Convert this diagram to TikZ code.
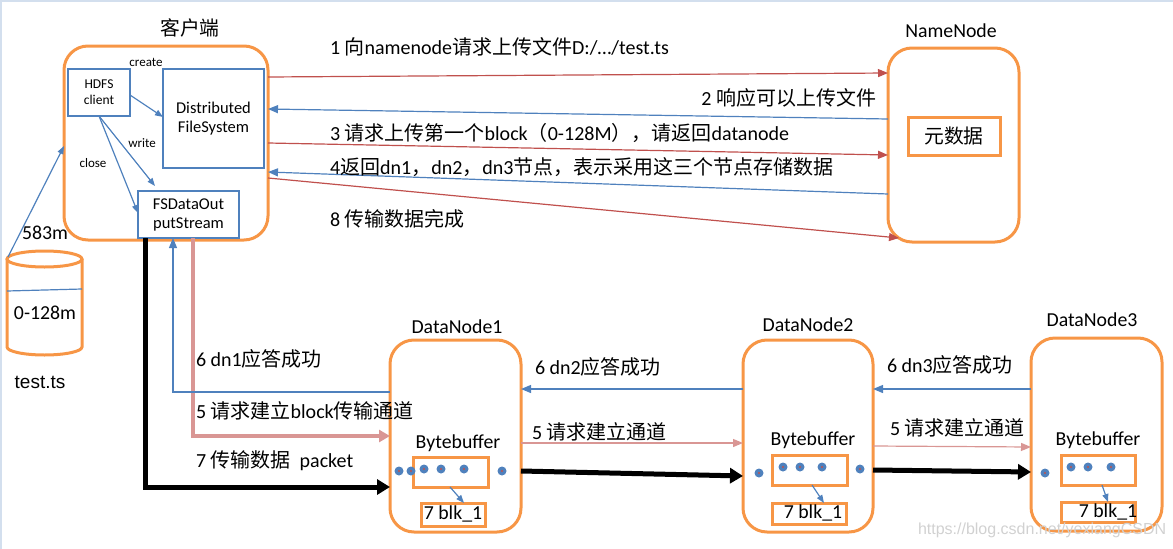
\documentclass[tikz,border=0pt]{standalone}
\usepackage{xcolor}
\usepackage{tikz}
\usetikzlibrary{arrows.meta,calc,positioning}
\usepackage{fontspec}
\setmainfont{Carlito}
\newfontfamily\cjk{Noto Sans CJK SC}
\newfontfamily\arialfont{Liberation Sans}
\definecolor{boxorange}{HTML}{F79646}
\definecolor{boxblue}{HTML}{4F81BD}
\definecolor{msgred}{HTML}{C0504D}
\definecolor{msgpink}{HTML}{D99694}

\begin{document}
\begin{tikzpicture}[x=1pt,y=-1pt,
	every node/.style={inner sep=0pt,outer sep=0pt},
	server/.style={draw=boxorange,line width=3pt,rounded corners=24pt},
	store/.style={draw=boxorange,line width=3pt},
	part/.style={draw=boxblue,line width=2.5pt,align=center,font=\fontsize{16.5}{19}\selectfont},
	title/.style={font=\fontsize{19.8}{22}\selectfont},
	msg/.style={anchor=west,font=\fontsize{20}{22}\selectfont},
	calllabel/.style={font=\fontsize{13}{15}\selectfont},
	call/.style={-{Triangle[length=8pt,width=6pt]},draw=boxblue,line width=1.2pt},
	req/.style={-{Triangle[length=10pt,width=8pt]},draw=msgred,line width=1.2pt},
	ack/.style={-{Triangle[length=10pt,width=8pt]},draw=boxblue,line width=1.2pt},
	setup/.style={-{Triangle[length=10pt,width=8pt]},draw=msgpink,line width=1.2pt},
	link/.style={-{Triangle[length=11pt,width=12pt]},draw=msgpink,line width=4pt},
	pipe/.style={-{Triangle[length=13pt,width=15pt]},draw=black,line width=5pt}]
	\useasboundingbox (0,0) rectangle (1173,549);
	\draw[boxblue!25,line width=2pt] (1,549) -- (1,1) -- (1173,1);

	% client side
	\node[server,minimum width=204pt,minimum height=194pt] (client) at (166,143) {};
	\node[title] (clienttitle) at (190,28) {\cjk 客户端};
	\node[part,minimum width=62pt,minimum height=47pt,font=\fontsize{13.5}{16}\selectfont] (hdfs) at (99,92.5) {HDFS\\client};
	\node[part,minimum width=101pt,minimum height=99pt] (dfs) at (213.5,118.5) {Distributed\\FileSystem};
	\node[part,minimum width=101pt,minimum height=47pt] (fsout) at (188.5,214.5) {FSDataOut\\putStream};
	\draw[call] ([yshift=-2.5pt]hdfs.east) -- ([yshift=1.5pt]dfs.west);
	\draw[call] (hdfs.south) -- ([xshift=-33.5pt,yshift=5pt]fsout.north);
	\draw[call] (hdfs.south) -- ([yshift=1.5pt]fsout.west);
	\node[calllabel] (createlabel) at (146,62) {create};
	\node[calllabel] (writelabel) at (142,143) {write};
	\node[calllabel] (closelabel) at (93,163) {close};

	% local file
	\draw[store] (44.5,259) ellipse [x radius=37.5pt,y radius=8pt];
	\draw[store] (7,259) -- (7,347) arc [start angle=180,end angle=360,x radius=37.5pt,y radius=8pt] -- (82,259);
	\draw[boxblue,line width=1.2pt] (7,291) -- (82,289);
	\coordinate (diskcorner) at (8,257);
	\draw[call] (diskcorner) -- ([yshift=-3pt]client.west);
	\node[title] (sizelabel) at (45,233) {583m};
	\node[title] (blocklabel) at (45,313) {0-128m};
	\node[font=\arialfont\fontsize{19}{22}\selectfont] (filelabel) at (40,382) {test.ts};

	% namenode
	\node[server,minimum width=131pt,minimum height=194pt] (namenode) at (953.5,145) {};
	\node[title] (nntitle) at (951,31) {NameNode};
	\node[store,minimum width=92pt,minimum height=38pt,title] (meta) at (954,136) {\cjk 元数据};

	\draw[req] ([yshift=66pt]client.east) -- ([yshift=72pt]namenode.west);
	\draw[ack] ([yshift=26pt]namenode.west) -- ([yshift=34pt]client.east);
	\draw[req] (client.east) -- ([yshift=-10pt]namenode.west);
	\draw[ack] ([yshift=-49pt]namenode.west) -- ([yshift=-29pt]client.east);
	\draw[req] ([yshift=-35pt]client.east) -- ([xshift=11pt,yshift=-93pt]namenode.west);
	\node[msg] (msg1) at (330,47) {1 {\cjk 向}namenode{\cjk 请求上传文件}D:/…/test.ts};
	\node[msg,anchor=east] (msg2) at (876,98) {2 {\cjk 响应可以上传文件}};
	\node[msg] (msg3) at (330,133) {3 {\cjk 请求上传第一个}block{\cjk （}0-128M{\cjk ），请返回}datanode};
	\node[msg] (msg4) at (330,167) {4{\cjk 返回}dn1{\cjk ，}dn2{\cjk ，}dn3{\cjk 节点，表示采用这三个节点存储数据}};
	\node[msg] (msg8) at (330,219) {8 {\cjk 传输数据完成}};

	% datanodes
	\node[server,minimum width=131pt,minimum height=192pt] (dn1) at (455.5,436) {};
	\node[server,minimum width=130pt,minimum height=192pt] (dn2) at (808,436) {};
	\node[server,minimum width=131pt,minimum height=193pt] (dn3) at (1096.5,434.5) {};
	\node[title] (dn1title) at (457,327) {DataNode1};
	\node[title] (dn2title) at (808,325) {DataNode2};
	\node[title] (dn3title) at (1092,320) {DataNode3};

	\node[title] (bb1) at (458,443) {Bytebuffer};
	\node[title] (bb2) at (813,440) {Bytebuffer};
	\node[title] (bb3) at (1098,440) {Bytebuffer};
	\node[store,minimum width=75pt,minimum height=30pt] (buf1) at (450.5,472) {};
	\node[store,minimum width=75pt,minimum height=30pt] (buf2) at (809.5,470) {};
	\node[store,minimum width=74pt,minimum height=30pt] (buf3) at (1098,470) {};
	\node[store,minimum width=64pt,minimum height=23pt] (blk1) at (453,514.5) {};
	\node[store,minimum width=74pt,minimum height=21pt] (blk2) at (809,513.5) {};
	\node[store,minimum width=74pt,minimum height=20pt] (blk3) at (1098,512) {};
	\node[title] (blklabel1) at (453,514) {7 blk\_1};
	\node[title] (blklabel2) at (813,513) {7 blk\_1};
	\node[title] (blklabel3) at (1108,512) {7 blk\_1};
	\draw[call] ([xshift=-0.5pt]buf1.south) -- ([xshift=11pt]blk1.north);
	\draw[call] ([xshift=2.5pt]buf2.south) -- ([xshift=15pt]blk2.north);
	\draw[call] ([xshift=4pt]buf3.south) -- ([xshift=10pt]blk3.north);
	\foreach \x/\y in {399/471,411/471,424/469,441/469,464/469,502/471,
	                   759/473,783/467,800/467,822/467,860/469,
	                   1045/473,1071/467,1088/467,1111/467}
	{
	  \fill[boxblue] (\x,\y) circle [radius=4.5pt];
	  \fill[msgred] (\x,\y) circle [radius=1.1pt];
	}

	% pipeline from client
	\draw[pipe] ([xshift=-43.5pt]fsout.south) |- ([yshift=-51pt]dn1.west);
	\draw[link] ([xshift=4.5pt]fsout.south) |- (dn1.west);
	\draw[ack] ([yshift=44pt]dn1.west) -| ([xshift=-15.5pt]fsout.south);
	\node[msg] (ack1) at (196,359) {6 dn1{\cjk 应答成功}};
	\node[msg] (setup1) at (196,411) {5 {\cjk 请求建立}block{\cjk 传输通道}};
	\node[msg] (packet) at (196,461) {7 {\cjk 传输数据}\ \ packet};

	% pipeline between datanodes
	\draw[ack] ([yshift=47pt]dn2.west) -- ([yshift=47pt]dn1.east);
	\draw[setup] ([yshift=-7pt]dn1.east) -- ([yshift=-7pt]dn2.west);
	\draw[pipe] ([yshift=-35pt]dn1.east) -- ([yshift=-40pt]dn2.west);
	\node[msg] (ack2) at (535,367) {6 dn2{\cjk 应答成功}};
	\node[msg] (setup2) at (532,432) {5 {\cjk 请求建立通道}};

	\draw[ack] ([yshift=45.5pt]dn3.west) -- ([yshift=47pt]dn2.east);
	\draw[setup] ([yshift=-10pt]dn2.east) -- ([yshift=-12.5pt]dn3.west);
	\draw[pipe] ([yshift=-34pt]dn2.east) -- ([yshift=-37.5pt]dn3.west);
	\node[msg] (ack3) at (887,365) {6 dn3{\cjk 应答成功}};
	\node[msg] (setup3) at (890,428) {5 {\cjk 请求建立通道}};

	\node[anchor=west,font=\arialfont\fontsize{16}{18}\selectfont,text=black!18] (mark) at (918,530) {https://blog.csdn.net/yexiangCSDN};
\end{tikzpicture}
\end{document}
